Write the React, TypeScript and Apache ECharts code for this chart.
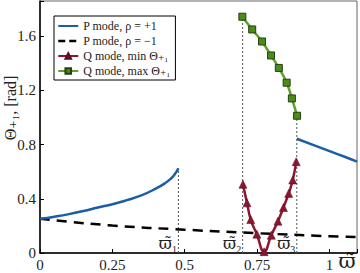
import React, { useEffect, useRef } from "react";
import * as echarts from "echarts";

const SERIF = "'Liberation Serif', 'DejaVu Serif', serif";
const DSERIF = "'DejaVu Serif', serif";

const pPlusLow: [number, number][] = [
  [0, 0.252], [0.05, 0.268], [0.1, 0.287], [0.15, 0.31], [0.2, 0.336], [0.25, 0.36],
  [0.3, 0.39], [0.35, 0.425], [0.4, 0.475], [0.43, 0.512], [0.45, 0.545], [0.465, 0.58], [0.478, 0.625],
];
const pPlusHigh: [number, number][] = [
  [0.887, 0.843], [0.95, 0.792], [1.0, 0.752], [1.05, 0.712], [1.095, 0.674],
];
const pMinus: [number, number][] = [
  [0, 0.252], [0.25, 0.203], [0.5, 0.172], [0.75, 0.146], [1.0, 0.124], [1.095, 0.117],
];
const qMin: [number, number][] = [
  [0.701, 0.507], [0.715, 0.37], [0.728, 0.247], [0.749, 0.139], [0.774, 0.01],
  [0.799, 0.131], [0.822, 0.235], [0.841, 0.336], [0.859, 0.44], [0.873, 0.539], [0.885, 0.674],
];
const qMax: [number, number][] = [
  [0.699, 1.744], [0.733, 1.65], [0.767, 1.561], [0.798, 1.458],
  [0.825, 1.366], [0.852, 1.257], [0.87, 1.141], [0.888, 1.013],
];
const markX = [0.478, 0.7, 0.887];
const markTop = [0.625, 1.744, 1.013];
const markSubs = ["1", "2", "3"];
const xTicks = [0, 0.25, 0.5, 0.75, 1];
const yTicks = [0, 0.4, 0.8, 1.2, 1.6];

const names = ["P mode, ρ = +1", "P mode, ρ = −1", "Q mode, min Θ₊₁", "Q mode, max Θ₊₁"];

export default function App() {
  const ref = useRef<HTMLDivElement>(null);
  useEffect(() => {
    const chart = echarts.init(ref.current!, null, { renderer: "svg" });
    const isTick = (v: number, arr: number[]) => arr.some((t) => Math.abs(t - v) < 1e-6);
    const markSeries = markX.map((x, i) => ({
      type: "line",
      silent: true,
      symbol: "circle",
      symbolSize: 1,
      itemStyle: { color: "rgba(0,0,0,0)" },
      z: 1,
      lineStyle: { color: "#555", width: 1, type: [2, 2] },
      data: [
        {
          value: [x, 0],
          label: {
            show: true,
            position: "left",
            distance: 1,
            offset: [0, -10],
            formatter: "{w|ϖ̃}{s|" + markSubs[i] + "}",
            rich: {
              w: { fontFamily: DSERIF, fontSize: 16, color: "#222", verticalAlign: "bottom" },
              s: { fontFamily: SERIF, fontSize: 10, color: "#222", verticalAlign: "bottom", padding: [0, 0, -3, 0] },
            },
          },
        },
        { value: [x, markTop[i]] },
      ],
    }));
    chart.setOption({
      animation: false,
      grid: { left: 40, right: 2.5, top: 1, bottom: 20, show: true, borderColor: "#666", borderWidth: 1 },
      xAxis: {
        type: "value",
        min: 0,
        max: 1.095,
        interval: 0.25,
        splitLine: { show: false },
        axisLine: { lineStyle: { color: "#000", width: 1.5 } },
        axisTick: { inside: true, length: 4, lineStyle: { color: "#000" } },
        axisLabel: {
          margin: 4,
          fontFamily: SERIF,
          fontSize: 15,
          color: "#222",
          formatter: (v: number) => (isTick(v, xTicks) ? String(v) : ""),
        },
      },
      yAxis: {
        type: "value",
        min: 0,
        max: 1.86,
        interval: 0.4,
        splitLine: { show: false },
        axisLine: { show: true, lineStyle: { color: "#000", width: 1.5 } },
        axisTick: { show: true, inside: true, length: 4, lineStyle: { color: "#000" } },
        axisLabel: {
          margin: 4,
          fontFamily: SERIF,
          fontSize: 15,
          color: "#222",
          formatter: (v: number) => (isTick(v, yTicks) ? String(Math.round(v * 10) / 10) : ""),
        },
      },
      legend: {
        data: [
          { name: names[0], itemStyle: { opacity: 0 } },
          { name: names[1], itemStyle: { opacity: 0 }, lineStyle: { type: [7, 4], width: 2.5 } },
          { name: names[2] },
          { name: names[3] },
        ],
        orient: "vertical",
        left: 54,
        top: 16,
        itemWidth: 20,
        itemHeight: 7,
        itemGap: 3,
        padding: [4, 5, 3, 3],
        borderColor: "#000",
        borderWidth: 1,
        backgroundColor: "#fff",
        textStyle: { fontFamily: SERIF, fontSize: 12, color: "#222" },
      },
      graphic: [
        {
          type: "text",
          x: 10,
          y: 108,
          rotation: Math.PI / 2,
          style: {
            text: "Θ₊₁, [rad]",
            fontFamily: SERIF,
            fontSize: 16,
            fill: "#222",
            textAlign: "center",
            textVerticalAlign: "middle",
          },
        },
        {
          type: "text",
          x: 347,
          y: 261,
          style: {
            text: "ϖ̃",
            fontFamily: DSERIF,
            fontSize: 21,
            fill: "#222",
            textAlign: "center",
            textVerticalAlign: "middle",
          },
        },
      ],
      series: [
        ...markSeries,
        {
          name: names[0],
          type: "line",
          data: pPlusLow,
          smooth: true,
          symbol: "none",
          lineStyle: { color: "#1b5ea5", width: 2.5 },
          itemStyle: { color: "#1b5ea5" },
          z: 3,
        },
        {
          name: names[0],
          type: "line",
          data: pPlusHigh,
          smooth: true,
          symbol: "none",
          lineStyle: { color: "#1b5ea5", width: 2.5 },
          itemStyle: { color: "#1b5ea5" },
          z: 3,
        },
        {
          name: names[1],
          type: "line",
          data: pMinus,
          smooth: true,
          symbol: "none",
          lineStyle: { color: "#000", width: 2.5, type: [10, 7] },
          itemStyle: { color: "#000" },
          z: 2,
        },
        {
          name: names[2],
          type: "line",
          data: qMin,
          smooth: true,
          symbol: "triangle",
          symbolSize: 8,
          lineStyle: { color: "#8b1630", width: 2.5 },
          itemStyle: { color: "#8b1630", borderColor: "#5a0c1e", borderWidth: 0.5 },
          z: 4,
        },
        {
          name: names[3],
          type: "line",
          data: qMax,
          smooth: true,
          symbol: "rect",
          symbolSize: 7,
          lineStyle: { color: "#5da22c", width: 2.5 },
          itemStyle: { color: "#4a8c1c", borderColor: "#26400f", borderWidth: 1 },
          z: 4,
        },
      ],
    });
    return () => chart.dispose();
  }, []);
  return <div ref={ref} style={{ width: 360, height: 273, position: "absolute", left: 0, top: 0 }} />;
}
